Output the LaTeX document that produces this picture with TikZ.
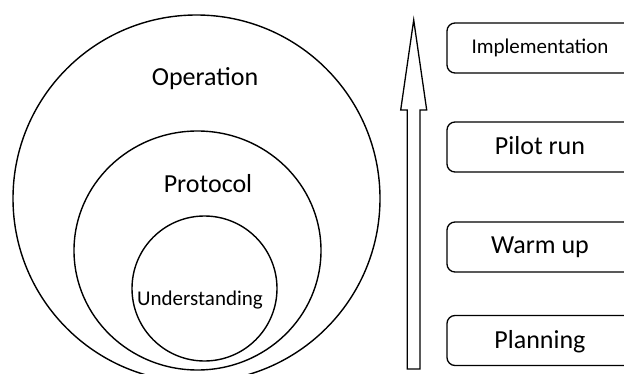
\documentclass[tikz,border=0pt]{standalone}
\usepackage{fontspec}
\setmainfont{Carlito}
\usetikzlibrary{shapes.geometric}
\begin{document}
\begin{tikzpicture}[x=1pt,y=-1pt,
  ring/.style={draw=black,line width=1.4pt,ellipse,inner sep=0pt},
  stagebox/.style={draw=black,line width=1.3pt,rounded corners=8pt,
    minimum width=186pt,minimum height=50pt,inner sep=0pt,
    text depth=3pt,font=\fontsize{26}{30}\selectfont},
  bigtext/.style={inner sep=0pt,font=\fontsize{26}{30}\selectfont},
  smalltext/.style={inner sep=0pt,font=\fontsize{21}{25}\selectfont}]
\useasboundingbox (0,0) rectangle (624,374);
\clip (0,0) rectangle (624,374);

% nested rings
\node[ring,minimum width=367pt,minimum height=367pt] (outer) at (196.5,198.5) {};
\node[ring,minimum width=247pt,minimum height=239pt] (middle) at (197.5,250.5) {};
\node[ring,minimum width=145pt,minimum height=145pt] (inner) at (204.5,288.5) {};

\node[bigtext] (operation) at (205,78.5) {Operation};
\node[bigtext] (protocol) at (208,184) {Protocol};
\node[smalltext] (understanding) at (200,300) {Understanding};

% upward block arrow
\draw[line width=1.3pt,line join=miter]
  (407.3,369) -- (407.3,110) -- (400.7,110) -- (413.7,20) -- (426.7,110)
  -- (420,110) -- (420,369) -- cycle;

% stage boxes
\node[stagebox,font=\fontsize{21}{25}\selectfont] (impl) at (540,48) {Implementation};
\node[stagebox] (pilot) at (540,147) {Pilot run};
\node[stagebox] (warm) at (540,247) {Warm up};
\node[stagebox] (plan) at (540,340.5) {Planning};
\end{tikzpicture}
\end{document}
